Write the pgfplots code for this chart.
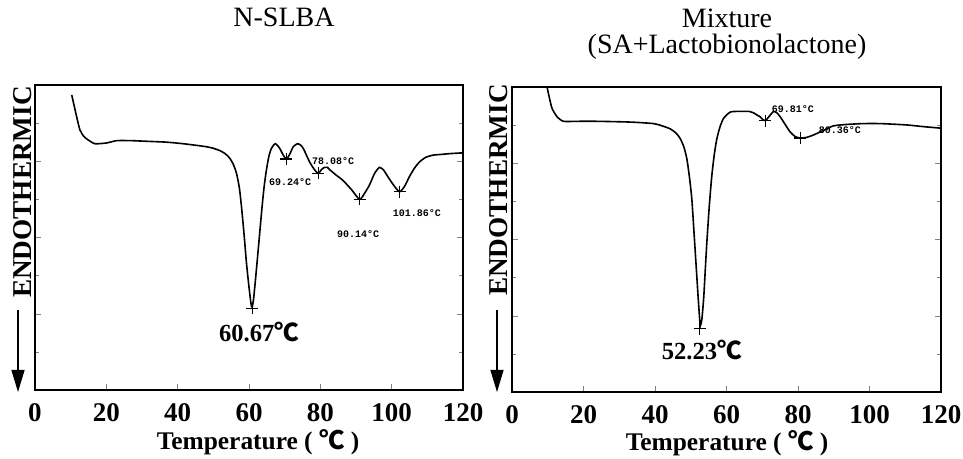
\documentclass[border=0pt]{standalone}
\usepackage{fontspec}
\setmainfont{Liberation Serif}
\newfontfamily\cjk{Noto Sans CJK SC}
\newfontfamily\monof{Liberation Mono}
\usepackage{pgfplots}
\pgfplotsset{compat=1.18}
\usetikzlibrary{arrows.meta}
\pgfplotsset{dsc/.style={scale only axis, height=152.5pt,
  xmin=0,xmax=120,ymin=0,ymax=4,
  xtick={0,20,...,120}, ytick={0,1,2,3,4}, minor ytick={0.5,1.5,2.5,3.5},
  yticklabels={}, tick align=inside, major tick length=3pt, minor tick length=2pt,
  xtick pos=left, ytick pos=both,
  axis line style={line width=0.9pt},
  /pgf/number format/assume math mode=true,
  xticklabel style={font=\bfseries\fontsize{13.5}{14}\selectfont, inner sep=0pt, yshift=-6.5pt},
  clip=true}}
\begin{document}
\begin{tikzpicture}
\path[use as bounding box] (0,0) rectangle (481.5pt,-229.5pt);
% titles
\node[anchor=base,font=\fontsize{14}{16}\selectfont,inner sep=0] at (142pt,-13.3pt) {N-SLBA};
\node[anchor=base,font=\fontsize{14}{16}\selectfont,inner sep=0] at (363.5pt,-14pt) {Mixture};
\node[anchor=base,font=\fontsize{14}{16}\selectfont,inner sep=0] at (363.5pt,-26.8pt) {(SA+Lactobionolactone)};
% y labels and arrows
\node[rotate=90,font=\bfseries\fontsize{13.6}{15}\selectfont,inner sep=0] at (11.25pt,-96pt) {ENDOTHERMIC};
\draw[line width=0.6pt,-{Triangle[length=11pt,width=6.5pt]}] (9pt,-155pt) -- (9pt,-196pt);
\node[rotate=90,font=\bfseries\fontsize{13.6}{15}\selectfont,inner sep=0] at (249.5pt,-95pt) {ENDOTHERMIC};
\draw[line width=0.6pt,-{Triangle[length=11pt,width=6.5pt]}] (248.5pt,-155pt) -- (248.5pt,-196pt);
% x labels
\node[anchor=base,font=\bfseries\fontsize{12.7}{14}\selectfont,inner sep=0] at (129pt,-224.5pt) {Temperature ( \smash{\cjk ℃} )};
\node[anchor=base,font=\bfseries\fontsize{12.7}{14}\selectfont,inner sep=0] at (363.5pt,-225.5pt) {Temperature ( \smash{\cjk ℃} )};

\begin{axis}[dsc, width=214pt, at={(17.5pt,-42.5pt)}, anchor=north west]
\addplot[black, line width=0.8pt, smooth, tension=0.4] coordinates {
(10.3,3.87) (11.5,3.62) (12.6,3.41) (13.8,3.32) (14.9,3.28) (16.8,3.23) (20.1,3.24) (22.9,3.27) (27,3.27) (32.2,3.26) (37,3.25) (41.5,3.23) (45,3.21) (48.1,3.19) (50,3.17) (51.8,3.14) (53.3,3.10) (54.6,3.04) (55.6,2.96) (56.5,2.84) (57.3,2.65) (57.9,2.40) (58.6,2.05) (59.3,1.66) (60.0,1.35) (60.6,1.12) (60.9,1.09) (61.3,1.20) (61.9,1.49) (62.7,1.90) (63.5,2.32) (64.2,2.65) (64.9,2.89) (65.6,3.07) (66.3,3.17) (67.4,3.23) (68.6,3.17) (69.6,3.08) (70.5,3.03) (71.4,3.09) (72.4,3.19) (73.6,3.23) (74.5,3.21) (75.2,3.17) (76.1,3.08) (77.0,2.99) (78.2,2.90) (79.4,2.84) (80.3,2.89) (81.2,2.92) (82.0,2.92) (82.6,2.89) (84.4,2.82) (86.3,2.75) (88.7,2.63) (91.0,2.50) (92.4,2.58) (93.8,2.69) (95.2,2.84) (96.6,2.92) (97.8,2.88) (98.9,2.80) (100.5,2.69) (102.2,2.60) (103.6,2.67) (105.0,2.80) (106.4,2.91) (107.8,2.99) (109.5,3.05) (111.6,3.08) (114,3.09) (116.3,3.10) (120,3.11)
};
\addplot[black, only marks, mark=+, mark size=3pt, mark options={line width=0.6pt}] coordinates {
(60.9,1.07) (70.5,3.03) (79.4,2.84) (91.0,2.50) (102.2,2.60)
};
\node[font=\bfseries\fontsize{12.3}{14}\selectfont,inner sep=0] at (axis cs:62.8,0.76) {60.67{\cjk ℃}};
\node[font=\monof\bfseries\fontsize{5}{6}\selectfont,inner sep=0] at (axis cs:71.5,2.73) {69.24°C};
\node[font=\monof\bfseries\fontsize{5}{6}\selectfont,inner sep=0] at (axis cs:83.6,3.0) {78.08°C};
\node[font=\monof\bfseries\fontsize{5}{6}\selectfont,inner sep=0] at (axis cs:90.6,2.05) {90.14°C};
\node[font=\monof\bfseries\fontsize{5}{6}\selectfont,inner sep=0] at (axis cs:107.1,2.32) {101.86°C};
\end{axis}

\begin{axis}[dsc, width=214.5pt, at={(256pt,-43.5pt)}, anchor=north west]
\addplot[black, line width=0.8pt, smooth, tension=0.4] coordinates {
(9.8,4.0) (10.5,3.85) (11.2,3.72) (12.6,3.61) (14.4,3.55) (18,3.55) (23.8,3.55) (33.1,3.54) (39.6,3.52) (42,3.49) (44.3,3.45) (46,3.39) (47.1,3.32) (48.1,3.21) (48.9,3.06) (49.6,2.83) (50.3,2.53) (50.9,2.10) (51.5,1.66) (52.1,1.22) (52.5,0.95) (52.7,0.87) (53.1,0.95) (53.6,1.22) (54.0,1.55) (54.5,1.96) (55.2,2.45) (55.9,2.84) (56.6,3.12) (57.3,3.32) (58.2,3.48) (59.2,3.59) (61.0,3.67) (63,3.68) (64.8,3.68) (66.3,3.68) (67.6,3.66) (68.6,3.63) (69.4,3.61) (70.2,3.57) (70.8,3.56) (71.5,3.59) (72.2,3.63) (73.2,3.68) (74.1,3.66) (75.0,3.61) (76.4,3.51) (77.8,3.41) (79.2,3.35) (80.6,3.33) (82.5,3.34) (84.3,3.37) (85.7,3.40) (87.1,3.43) (89.9,3.49) (94,3.51) (98.3,3.52) (103,3.52) (107.6,3.51) (111,3.50) (115.1,3.48) (120,3.46)
};
\addplot[black, only marks, mark=+, mark size=3pt, mark options={line width=0.6pt}] coordinates {
(52.5,0.83) (70.8,3.56) (80.6,3.33)
};
\node[font=\bfseries\fontsize{12.3}{14}\selectfont,inner sep=0] at (axis cs:53.1,0.55) {52.23{\cjk ℃}};
\node[font=\monof\bfseries\fontsize{5}{6}\selectfont,inner sep=0] at (axis cs:78.6,3.71) {69.81°C};
\node[font=\monof\bfseries\fontsize{5}{6}\selectfont,inner sep=0] at (axis cs:91.7,3.44) {80.36°C};
\end{axis}
\end{tikzpicture}
\end{document}
